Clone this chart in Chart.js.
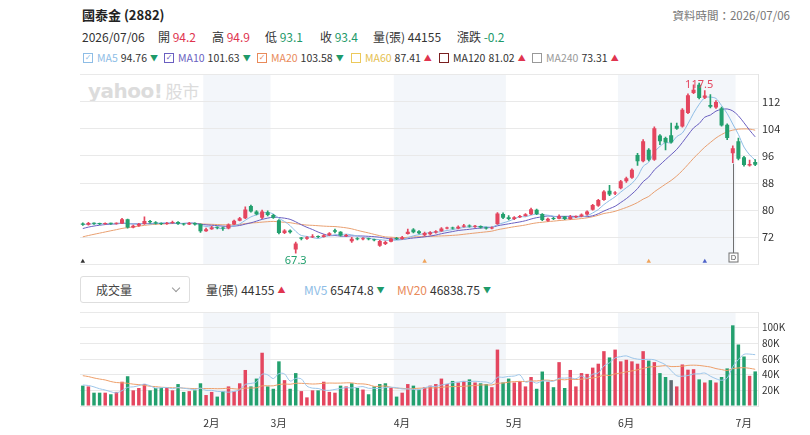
<!DOCTYPE html>
<html>
<head>
<meta charset="utf-8">
<title>國泰金 (2882)</title>
<script src="https://cdn.jsdelivr.net/npm/chart.js@4.4.1/dist/chart.umd.min.js"></script>
<style>
  body { margin: 0; background: #fff; font-family: "Noto Sans CJK TC", "Noto Sans", sans-serif; color: #333; }
  #page { position: relative; width: 810px; height: 435px; overflow: hidden; }
  .t { position: absolute; white-space: nowrap; line-height: 16px; }
  .row2 { top: 29px; font-size: 12px; }
  .row3 { top: 50px; font-size: 10.5px; display: flex; align-items: center; }
  .row3 b, .vrow b { font-weight: normal; margin-right: 3px; }
  .vrow { top: 282px; font-size: 12px; display: flex; align-items: center; }
  .up { color: #e0344f; }
  .dn { color: #1e9a6a; }
  .tri { font-size: 8px; margin-left: 3px; }
  .cb { display: inline-block; box-sizing: border-box; width: 10px; height: 10px; border: 1px solid; margin-right: 4px;
        font-size: 8px; line-height: 8px; text-align: center; font-style: normal; font-family: "DejaVu Sans"; }
  #wm { position: absolute; left: 88px; top: 78px; color: #dcdcdc; font: bold 20px "DejaVu Sans"; letter-spacing: -0.5px; }
  #wm span { font: 17px "Noto Sans CJK TC"; letter-spacing: 0; margin-left: 3px; }
  #sel { position: absolute; left: 80px; top: 276px; width: 110px; height: 27px; box-sizing: border-box;
         border: 1px solid #dedede; border-radius: 3px; font-size: 12px; line-height: 25px; padding-left: 15px; color: #444; }
  #sel i { position: absolute; left: 92px; top: 8px; width: 5px; height: 5px; border-right: 1px solid #999; border-bottom: 1px solid #999; transform: rotate(45deg); }
  canvas { position: absolute; left: 0; }
</style>
</head>
<body>
<div id="page">
  <div class="t" style="left:82px;top:7px;font-size:13px;font-weight:bold;color:#222">國泰金 (2882)</div>
  <div class="t" style="right:20px;top:7px;font-size:11.5px;color:#777">資料時間：2026/07/06</div>

  <div class="t row2" style="left:82px">2026/07/06</div>
  <div class="t row2" style="left:158px">開 <span class="up">94.2</span></div>
  <div class="t row2" style="left:212px">高 <span class="up">94.9</span></div>
  <div class="t row2" style="left:265px">低 <span class="dn">93.1</span></div>
  <div class="t row2" style="left:320px">收 <span class="dn">93.4</span></div>
  <div class="t row2" style="left:373px">量(張) 44155</div>
  <div class="t row2" style="left:457px">漲跌 <span class="dn">-0.2</span></div>

  <div class="t row3" style="left:83px"><i class="cb" style="border-color:#8ebde6;color:#8ebde6">✓</i><b style="color:#8ebde6">MA5</b>94.76<span class="tri dn">▼</span></div>
  <div class="t row3" style="left:164px"><i class="cb" style="border-color:#6a5fc1;color:#6a5fc1">✓</i><b style="color:#6a5fc1">MA10</b>101.63<span class="tri dn">▼</span></div>
  <div class="t row3" style="left:257px"><i class="cb" style="border-color:#e98a5a;color:#e98a5a">✓</i><b style="color:#e98a5a">MA20</b>103.58<span class="tri dn">▼</span></div>
  <div class="t row3" style="left:351px"><i class="cb" style="border-color:#ecc95a"></i><b style="color:#e5c050">MA60</b>87.41<span class="tri up">▲</span></div>
  <div class="t row3" style="left:439px"><i class="cb" style="border-color:#7a1f1f"></i><b>MA120</b>81.02<span class="tri up">▲</span></div>
  <div class="t row3" style="left:532px"><i class="cb" style="border-color:#999"></i><b style="color:#999">MA240</b>73.31<span class="tri up">▲</span></div>

  <div id="wm">yahoo!<span>股市</span></div>

  <div id="sel">成交量<i></i></div>
  <div class="t vrow" style="left:206px"><b>量(張)</b>44155<span class="tri up">▲</span></div>
  <div class="t vrow" style="left:304px"><b style="color:#8ebde6">MV5</b>65474.8<span class="tri dn">▼</span></div>
  <div class="t vrow" style="left:397px"><b style="color:#e98a5a">MV20</b>46838.75<span class="tri dn">▼</span></div>

  <canvas id="price" width="810" height="211" style="top:64px"></canvas>
  <canvas id="vol" width="810" height="138" style="top:302px"></canvas>
</div>

<script>
// ---- data (Jan 2026 - Jul 6 2026, daily) ----
const monthNames = ['2月', '3月', '4月', '5月', '6月', '7月'];
const monthStart = [22, 34, 56, 76, 96, 117];

const open = [
  76.1, 75.7, 76.2, 76.0, 75.9, 76.1, 76.0, 76.1, 77.3, 74.9, 75.4, 75.9, 76.8, 76.4, 76.1, 75.9, 76.2, 76.5, 76.0, 75.8, 76.2, 75.9,
  73.8, 74.4, 74.9, 74.9, 74.6, 75.8, 76.9, 77.6, 81.2, 79.6, 77.8, 79.4,
  78.6, 77.0, 73.3, 74.0, 68.4, 71.9, 71.6, 72.0, 72.3, 72.1, 72.6, 74.1, 73.6, 72.4, 70.8, 71.7, 71.4, 71.7, 71.4, 69.5, 70.0, 70.7,
  71.8, 71.5, 73.0, 74.3, 73.8, 72.6, 72.9, 73.4, 73.8, 74.6, 74.8, 74.6, 75.1, 75.5, 75.1, 75.3, 74.9, 74.6, 75.9, 78.9,
  77.9, 77.4, 77.9, 78.3, 78.8, 80.1, 78.9, 76.9, 77.6, 77.5, 78.1, 77.4, 78.0, 78.1, 78.7, 80.1, 81.3, 83.0, 85.7, 84.9,
  86.5, 88.5, 89.6, 96.3, 94.4, 97.8, 94.9, 102.0, 101.3, 102.1, 104.9, 104.7, 108.7, 114.6, 117.0, 113.2, 111.0, 110.3, 110.1, 105.2, 96.8,
  100.3, 95.6, 93.2, 94.2
];
const high = [
  76.3, 76.4, 76.3, 76.2, 76.3, 76.2, 76.3, 77.6, 77.4, 75.6, 76.1, 78.0, 77.0, 76.6, 76.3, 76.4, 76.8, 76.6, 76.1, 76.4, 76.3, 76.0,
  74.7, 75.2, 75.1, 75.0, 76.0, 77.1, 77.9, 81.0, 81.5, 79.9, 80.0, 79.8,
  78.8, 77.2, 74.3, 74.2, 70.6, 72.0, 72.2, 72.8, 72.4, 72.8, 73.4, 74.4, 73.7, 72.9, 72.0, 71.9, 71.9, 71.8, 71.5, 71.1, 70.9, 71.8,
  72.0, 72.3, 74.4, 74.6, 74.0, 73.5, 73.7, 74.0, 74.9, 75.0, 75.0, 75.4, 75.8, 75.7, 75.5, 75.4, 75.0, 75.1, 79.3, 79.2,
  78.4, 78.1, 78.5, 79.0, 80.6, 80.3, 79.0, 77.7, 77.9, 78.6, 78.2, 78.5, 78.3, 78.9, 79.8, 81.7, 83.2, 85.8, 87.3, 85.5,
  88.8, 89.8, 92.2, 96.8, 100.8, 98.2, 104.6, 102.3, 101.6, 105.7, 105.7, 110.0, 114.3, 117.0, 117.5, 115.3, 114.1, 112.3, 110.4, 105.5, 99.0,
  101.3, 95.9, 94.8, 94.9
];
const low = [
  75.5, 75.6, 75.8, 75.7, 75.8, 75.8, 75.9, 76.0, 74.7, 74.8, 75.2, 75.8, 76.2, 75.9, 75.7, 75.8, 76.1, 75.8, 75.6, 75.7, 75.6, 73.4,
  73.7, 74.3, 74.5, 74.0, 74.5, 75.7, 76.8, 77.5, 79.4, 78.6, 77.5, 78.3,
  77.6, 73.0, 73.1, 73.2, 67.3, 71.2, 71.4, 71.9, 71.9, 72.0, 72.5, 73.3, 72.3, 72.2, 70.5, 71.2, 71.2, 71.2, 70.9, 69.3, 69.8, 70.6,
  71.3, 71.4, 72.9, 73.3, 73.0, 72.4, 72.7, 73.2, 73.7, 74.5, 74.4, 74.5, 75.0, 75.0, 74.9, 74.7, 74.4, 74.5, 75.8, 77.5,
  77.1, 77.2, 77.8, 78.2, 78.7, 78.7, 76.9, 76.7, 77.2, 77.4, 77.2, 77.3, 77.8, 78.0, 78.5, 80.0, 81.1, 82.9, 84.3, 84.6,
  86.3, 88.2, 89.4, 93.2, 94.2, 94.5, 94.7, 99.3, 97.8, 99.8, 103.8, 104.5, 108.5, 114.4, 112.8, 112.9, 110.2, 110.0, 104.8, 100.8, 94.0,
  94.8, 93.0, 93.0, 93.1
];
const close = [
  75.7, 76.2, 76.0, 75.9, 76.1, 76.0, 76.1, 77.3, 74.9, 75.4, 75.9, 76.8, 76.4, 76.1, 75.9, 76.2, 76.5, 76.0, 75.8, 76.2, 75.8, 73.8,
  74.4, 74.9, 74.8, 74.6, 75.8, 76.9, 77.6, 80.2, 79.6, 78.8, 79.6, 78.6,
  77.8, 73.3, 74.0, 73.5, 70.2, 71.6, 72.0, 72.3, 72.1, 72.6, 73.2, 73.6, 72.5, 72.7, 71.6, 71.4, 71.7, 71.4, 71.1, 70.9, 70.6, 71.6,
  71.5, 72.0, 73.6, 73.5, 73.2, 73.3, 73.5, 73.8, 74.6, 74.8, 74.6, 75.1, 75.5, 75.2, 75.3, 74.9, 74.6, 74.9, 79.0, 77.8,
  77.4, 77.9, 78.3, 78.8, 80.3, 78.9, 77.1, 77.5, 77.4, 78.2, 77.4, 78.0, 78.1, 78.7, 79.6, 81.5, 83.0, 85.5, 84.6, 85.1,
  88.5, 89.4, 91.9, 94.4, 100.3, 94.9, 104.2, 100.3, 100.0, 100.0, 104.0, 109.6, 113.9, 115.5, 113.1, 113.8, 110.5, 111.9, 105.0, 101.3, 98.3,
  95.2, 93.3, 93.6, 93.4
];
const volume = [
  26000, 25000, 17000, 17000, 17000, 15000, 18000, 31000, 38000, 20000, 23000, 28000, 20000, 23000, 23000, 24000, 20000, 28000, 18000, 19000, 20000, 29000,
  14000, 18000, 12000, 19000, 25000, 19000, 29000, 46000, 25000, 35000, 68000, 25000,
  22000, 57000, 33000, 22000, 42000, 19000, 11000, 20000, 20000, 31000, 18000, 17000, 26000, 25000, 29000, 23000, 21000, 15000, 25000, 28000, 29000, 23000,
  12000, 17000, 28000, 26000, 21000, 24000, 26000, 28000, 35000, 28000, 32000, 30000, 32000, 34000, 30000, 29000, 28000, 24000, 72000, 30000,
  35000, 30000, 32000, 25000, 37000, 22000, 44000, 31000, 24000, 56000, 23000, 46000, 25000, 42000, 41000, 49000, 54000, 70000, 62000, 72000,
  57000, 59000, 57000, 54000, 70000, 58000, 56000, 42000, 37000, 33000, 25000, 53000, 46401, 47000, 34000, 30000, 33000, 30000, 37000, 48000, 103000,
  78500, 63200, 38519, 44155
];
// last sessions of Dec 2025, only needed so the moving averages start correctly
const seedClose = [68.5, 68.8, 69.0, 69.2, 69.0, 69.5, 70.0, 70.4, 71.0, 71.5, 72.0, 72.8, 73.5, 74.2, 74.8, 75.3, 75.6, 75.8, 76.1];
const seedVolume = [48000, 52000, 45000, 40000, 55000, 44000, 38000, 50000, 42000, 36000, 47000, 41000, 33000, 39000, 30000, 28000, 26000, 29000, 25000];

// event markers along the bottom of the price chart
const eventIdx = [0, 61, 101, 111];
const eventColor = ['#333333', '#f0a35a', '#f0a35a', '#4f63c9'];
const dividendIdx = 116;

// ---- helpers ----
const UP = '#e4465f', DOWN = '#23a06e', FLAT = '#5f6b73';
const MA5C = '#8ebde6', MA10C = '#6a5fc1', MA20C = '#e9a071';
const FONT = '"Noto Sans CJK TC", "Noto Sans", sans-serif';
Chart.defaults.font.family = FONT;
Chart.defaults.color = '#333';

const labels = close.map((_, i) => i);
const prevClose = [seedClose[seedClose.length - 1]].concat(close.slice(0, -1));
const candleColor = close.map((c, i) => c >= open[i] ? UP : DOWN);
const volColor = close.map((c, i) => c > prevClose[i] ? UP : (c < prevClose[i] ? DOWN : FLAT));

function movingAvg(seed, vals, n) {
  const all = seed.concat(vals);
  return vals.map((v, i) => {
    const end = i + seed.length;
    let s = 0;
    for (let k = end - n + 1; k <= end; k++) s += all[k];
    return s / n;
  });
}
const ma5 = movingAvg(seedClose, close, 5);
const ma10 = movingAvg(seedClose, close, 10);
const ma20 = movingAvg(seedClose, close, 20);
const mv5 = movingAvg(seedVolume, volume, 5);
const mv20 = movingAvg(seedVolume, volume, 20);

const monthLabelAt = {};
monthStart.forEach((s, k) => { monthLabelAt[s] = monthNames[k]; });

const eventData = close.map(() => null);
const eventColors = close.map(() => 'rgba(0,0,0,0)');
eventIdx.forEach((e, k) => { eventData[e] = 64.9; eventColors[e] = eventColor[k]; });

// shaded background for Feb / Apr / Jun
const bandPlugin = {
  id: 'monthBands',
  beforeDraw(chart) {
    const { ctx, chartArea: a, scales: { x } } = chart;
    const half = (x.getPixelForValue(1) - x.getPixelForValue(0)) / 2;
    ctx.save();
    ctx.fillStyle = '#f3f6fa';
    for (let k = 0; k + 1 < monthStart.length; k += 2) {
      const x0 = x.getPixelForValue(monthStart[k]) - half;
      const x1 = x.getPixelForValue(monthStart[k + 1] - 1) + half;
      ctx.fillRect(x0, a.top, x1 - x0, a.bottom - a.top);
    }
    ctx.restore();
  }
};

// highest / lowest labels and the dividend marker
const markPlugin = {
  id: 'marks',
  afterDatasetsDraw(chart) {
    const { ctx, chartArea: a, scales: { x, y } } = chart;
    const hi = high.indexOf(Math.max(...high));
    const lo = low.indexOf(Math.min(...low));
    ctx.save();
    ctx.font = '11px "Noto Sans", sans-serif';
    ctx.textAlign = 'center';
    ctx.fillStyle = UP;
    ctx.textBaseline = 'middle';
    ctx.fillText(high[hi].toFixed(1), x.getPixelForValue(hi), y.getPixelForValue(high[hi]) + 2);
    ctx.fillStyle = DOWN;
    ctx.textBaseline = 'top';
    ctx.fillText(low[lo].toFixed(1), x.getPixelForValue(lo), y.getPixelForValue(low[lo]) + 2);

    const dx = Math.round(x.getPixelForValue(dividendIdx)) + 0.5;
    const by = Math.round(a.bottom - 7) + 0.5;
    ctx.strokeStyle = '#707070';
    ctx.lineWidth = 1;
    ctx.beginPath();
    ctx.moveTo(dx, y.getPixelForValue(low[dividendIdx]) + 1);
    ctx.lineTo(dx, by - 4.5);
    ctx.stroke();
    ctx.fillStyle = '#fff';
    ctx.fillRect(dx - 4.5, by - 4.5, 9, 9);
    ctx.strokeRect(dx - 4.5, by - 4.5, 9, 9);
    ctx.fillStyle = '#555';
    ctx.font = '7px "DejaVu Sans"';
    ctx.textBaseline = 'middle';
    ctx.fillText('D', dx, by + 0.5);
    ctx.restore();
  }
};

const lineSet = (label, data, color, order) => ({
  type: 'line', label, data, borderColor: color, borderWidth: 1, pointRadius: 0, tension: 0.3, order
});

// ---- price (candles) ----
new Chart(document.getElementById('price'), {
  type: 'bar',
  data: {
    labels,
    datasets: [
      { label: 'body', data: open.map((o, i) => [o, close[i]]), backgroundColor: candleColor,
        barPercentage: 0.72, categoryPercentage: 1, grouped: false, minBarLength: 1, order: 0 },
      { label: 'wick', data: low.map((l, i) => [l, high[i]]), backgroundColor: candleColor,
        barThickness: 1, grouped: false, order: 1 },
      lineSet('MA5', ma5, MA5C, 2),
      lineSet('MA10', ma10, MA10C, 3),
      lineSet('MA20', ma20, MA20C, 4),
      { type: 'line', label: 'events', data: eventData, showLine: false, pointStyle: 'triangle',
        pointRadius: 2.6, pointBorderWidth: 0, pointBackgroundColor: eventColors, order: 5 }
    ]
  },
  options: {
    responsive: false,
    animation: false,
    layout: { padding: { left: 80, right: 0, top: 0, bottom: 0 } },
    plugins: { legend: { display: false }, tooltip: { enabled: false } },
    scales: {
      x: { display: false },
      y: {
        position: 'right', min: 64, max: 120,
        ticks: { stepSize: 8, autoSkip: false, padding: 4, font: { size: 11 }, color: '#333',
                 callback: v => (v === 64 || v === 120) ? '' : v },
        grid: { color: '#e9e9e9', drawTicks: false },
        border: { display: true, color: '#e4e4e4' },
        afterFit: s => { s.width = 52; }
      }
    }
  },
  plugins: [bandPlugin, markPlugin]
});

// ---- volume ----
new Chart(document.getElementById('vol'), {
  type: 'bar',
  data: {
    labels,
    datasets: [
      lineSet('MV5', mv5, '#9dc6ea', 0),
      lineSet('MV20', mv20, '#ee9f6a', 1),
      { label: '量', data: volume, backgroundColor: volColor, barPercentage: 0.62, categoryPercentage: 1, order: 2 }
    ]
  },
  options: {
    responsive: false,
    animation: false,
    layout: { padding: { left: 80, right: 0, top: 0, bottom: 4 } },
    plugins: { legend: { display: false }, tooltip: { enabled: false } },
    scales: {
      x: {
        grid: { display: false, drawTicks: false },
        border: { display: false },
        ticks: { autoSkip: false, maxRotation: 0, align: 'start', labelOffset: -2.8, padding: 11,
                 font: { size: 10.5 }, color: '#333',
                 callback: v => monthLabelAt[v] ?? null },
        afterFit: s => { s.height = 30; }
      },
      y: {
        position: 'right', min: 0, max: 120000,
        ticks: { stepSize: 20000, autoSkip: false, padding: 4, font: { size: 10 }, color: '#333',
                 callback: v => (v === 0 || v === 120000) ? '' : (v / 1000) + 'K' },
        grid: { color: '#e9e9e9', drawTicks: false },
        border: { display: true, color: '#e4e4e4' },
        afterFit: s => { s.width = 52; }
      }
    }
  },
  plugins: [bandPlugin]
});
</script>
</body>
</html>
